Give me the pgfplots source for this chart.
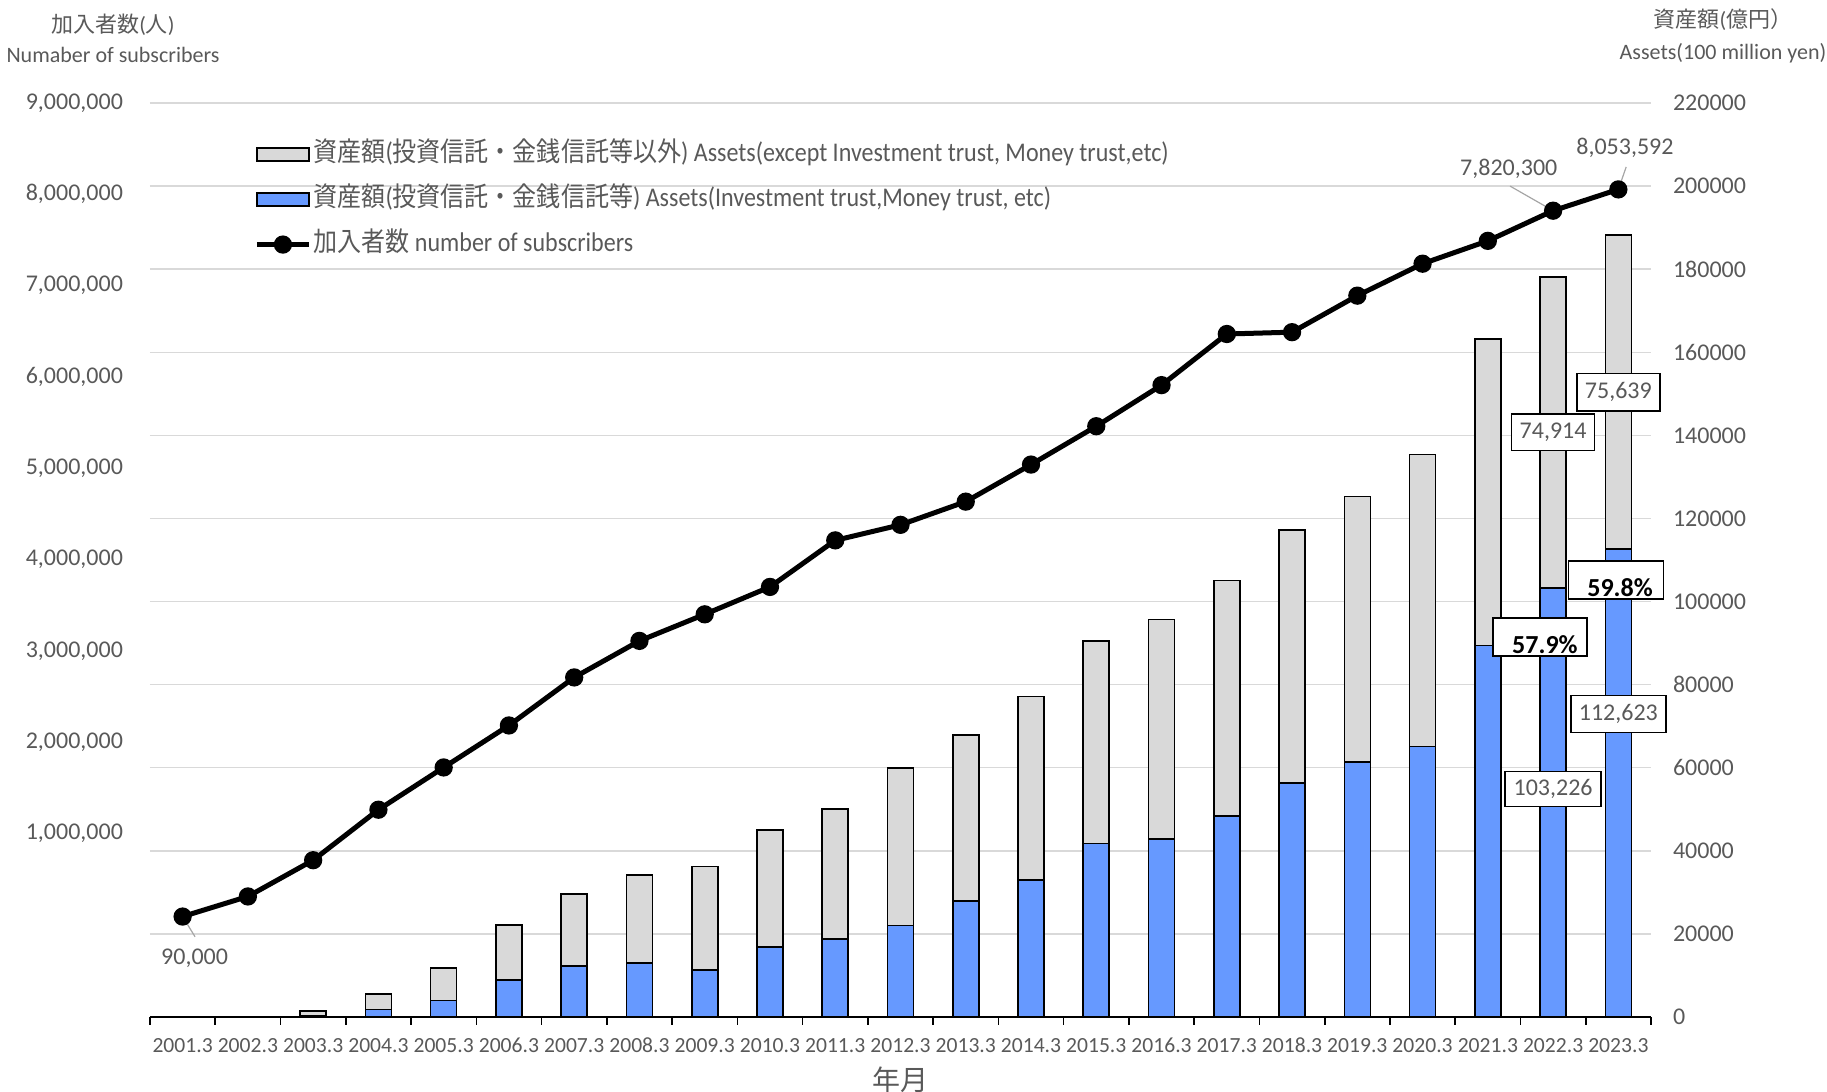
\documentclass[border=0pt]{standalone}
\usepackage{fontspec}
\usepackage{graphicx}
\usepackage{pgfplots}
\pgfplotsset{compat=1.18}
\setmainfont{Carlito}
\newfontfamily\jp{Noto Sans CJK JP}

\definecolor{gbar}{HTML}{D9D9D9}
\definecolor{bblue}{HTML}{6699FF}
\definecolor{gridc}{HTML}{D9D9D9}
\definecolor{txt}{HTML}{595959}
\definecolor{leader}{HTML}{A6A6A6}

\newcommand\lt[1]{\scalebox{0.89}[1]{#1}}
\newcommand\fs[1]{\fontsize{#1}{#1}\selectfont}
\tikzset{lbl/.style={draw=black, fill=white, line width=0.75pt, inner sep=0pt, font=\fs{12}, text=txt},
  pct/.style={lbl, text=black, font=\fs{13}\bfseries, align=right, text height=16pt, text depth=0pt}}

\begin{document}
\begin{tikzpicture}
\useasboundingbox (-75pt,-37.5pt) rectangle (838.5pt,508.5pt);

% bars, right axis
\begin{axis}[
  scale only axis, width=750.5pt, height=457pt,
  xmin=-0.5, xmax=22.5, ymin=0, ymax=220000,
  ybar stacked, bar width=13pt,
  axis y line*=right, axis x line*=bottom,
  y axis line style={draw=none},
  x axis line style={-, line width=0.8pt, black},
  ytick={0,20000,...,220000},
  scaled y ticks=false,
  yticklabel={\pgfmathprintnumber[fixed,precision=0,1000 sep={},assume math mode=true]{\tick}},
  ymajorgrids, grid style={line width=0.75pt, gridc},
  major tick length=0pt,
  xtick={0,...,22},
  xticklabels={2001.3,2002.3,2003.3,2004.3,2005.3,2006.3,2007.3,2008.3,2009.3,2010.3,2011.3,2012.3,2013.3,2014.3,2015.3,2016.3,2017.3,2018.3,2019.3,2020.3,2021.3,2022.3,2023.3},
  extra x ticks={-0.5,0.5,...,22.5},
  extra x tick style={xticklabel=\empty, major tick length=4pt, tick align=outside, tick style={black, line width=0.8pt}},
  xticklabel style={font=\fs{10.8}, text=txt, yshift=-7pt},
  yticklabel style={font=\fs{12}, text=txt, xshift=7.5pt},
]
\addplot[fill=bblue, draw=black, line width=0.8pt] coordinates {
(0,0) (1,0) (2,300) (3,1850) (4,3930) (5,8900) (6,12270) (7,12990) (8,11310)
(9,16920) (10,18770) (11,22060) (12,27950) (13,32920) (14,41770) (15,42850)
(16,48400) (17,56350) (18,61400) (19,65120) (20,89400) (21,103226) (22,112623)};
\addplot[fill=gbar, draw=black, line width=0.8pt] coordinates {
(0,0) (1,0) (2,1200) (3,3680) (4,7860) (5,13240) (6,17330) (7,21260) (8,24940)
(9,28080) (10,31280) (11,37940) (12,39900) (13,44200) (14,48760) (15,52810)
(16,56700) (17,60800) (18,63850) (19,70270) (20,73740) (21,74914) (22,75639)};
\end{axis}

% subscribers, left axis (drawn on top, also carries the value boxes)
\begin{axis}[
  scale only axis, width=750.5pt, height=457pt,
  xmin=-0.5, xmax=22.5, ymin=-1010000, ymax=9000000,
  axis x line=none,
  axis y line*=left,
  y axis line style={draw=none},
  major tick length=0pt,
  ytick={1000000,2000000,...,9000000},
  scaled y ticks=false,
  yticklabel={\pgfmathprintnumber[fixed,precision=0,1000 sep={,},assume math mode=true]{\tick}},
  yticklabel style={font=\fs{12}, text=txt, xshift=-10pt},
  clip=false,
  legend cell align=left,
  legend style={at={(0.0693,0.9604)}, anchor=north west, draw=none, fill=none,
    inner sep=0pt, row sep=7.5pt,
    nodes={inner sep=1pt, font=\fs{13.5}, text=txt, text height=10pt, text depth=3pt}},
]
\addlegendimage{legend image code/.code={\draw[fill=gbar, draw=black, line width=1pt] (0pt,-3.4pt) rectangle (26pt,3.4pt);}}
\addlegendentry{\lt{{\jp 資産額}({\jp 投資信託・金銭信託等以外}) Assets(except Investment trust, Money trust,etc)}}
\addlegendimage{legend image code/.code={\draw[fill=bblue, draw=black, line width=1pt] (0pt,-3.4pt) rectangle (26pt,3.4pt);}}
\addlegendentry{\lt{{\jp 資産額}({\jp 投資信託・金銭信託等}) Assets(Investment trust,Money trust, etc)}}

\addplot[black, line width=2.5pt, mark=*, mark size=3.3pt,
  legend image code/.code={\draw[black, line width=2.5pt] (0pt,0pt) -- (26pt,0pt); \fill[black] (13pt,0pt) circle (3.3pt);}]
coordinates {
(0,90000) (1,310000) (2,707000) (3,1260000) (4,1723000) (5,2183000) (6,2709000)
(7,3109000) (8,3400000) (9,3700000) (10,4210000) (11,4380000) (12,4634000)
(13,5040000) (14,5460000) (15,5910000) (16,6470000) (17,6490000) (18,6890000)
(19,7240000) (20,7490000) (21,7820300) (22,8053592)};
\addlegendentry{\lt{{\jp 加入者数} number of subscribers}}

\draw[leader, line width=0.6pt] (axis cs:0,90000) -- (axis cs:0.19,-131000);
\draw[leader, line width=0.6pt] (axis cs:20.34,8090000) -- (axis cs:21,7820300);
\draw[leader, line width=0.6pt] (axis cs:22.12,8300000) -- (axis cs:22,8053592);
\node[font=\fs{12}, text=txt] at (axis cs:0.183,-365000) {90,000};
\node[font=\fs{12}, text=txt] at (axis cs:20.32,8274000) {7,820,300};
\node[font=\fs{12}, text=txt] at (axis cs:22.1,8504000) {8,053,592};

% value boxes (positions converted to this axis' scale)
\node[lbl, minimum width=41.6pt, minimum height=18.9pt] at (axis cs:22,5832518) {75,639};
\node[lbl, minimum width=41.5pt, minimum height=18.4pt] at (axis cs:21,5394580) {74,914};
\node[lbl, minimum width=47.5pt, minimum height=18.5pt] at (axis cs:22,2306950) {112,623};
\node[lbl, minimum width=48pt, minimum height=17.5pt] at (axis cs:21,1486130) {103,226};
\node[pct, minimum width=47.5pt, minimum height=19pt, text width=37pt] at (axis cs:21.96,3774325) {59.8\%};
\node[pct, minimum width=47pt, minimum height=19pt, text width=37.6pt] at (axis cs:20.8,3150065) {57.9\%};
\end{axis}

\node[font=\fs{11}, text=txt] at (-18.5pt,496pt) {{\jp 加入者数}({\jp 人})};
\node[font=\fs{11}, text=txt] at (-18.5pt,481pt) {Numaber of subscribers};
\node[font=\fs{11}, text=txt] at (786.5pt,498.5pt) {{\jp 資産額}({\jp 億円）}};
\node[font=\fs{11}, text=txt] at (786.5pt,482pt) {Assets(100 million yen)};
\node[font=\fs{14}, text=txt] at (375pt,-31.5pt) {{\jp 年月}};
\end{tikzpicture}
\end{document}
